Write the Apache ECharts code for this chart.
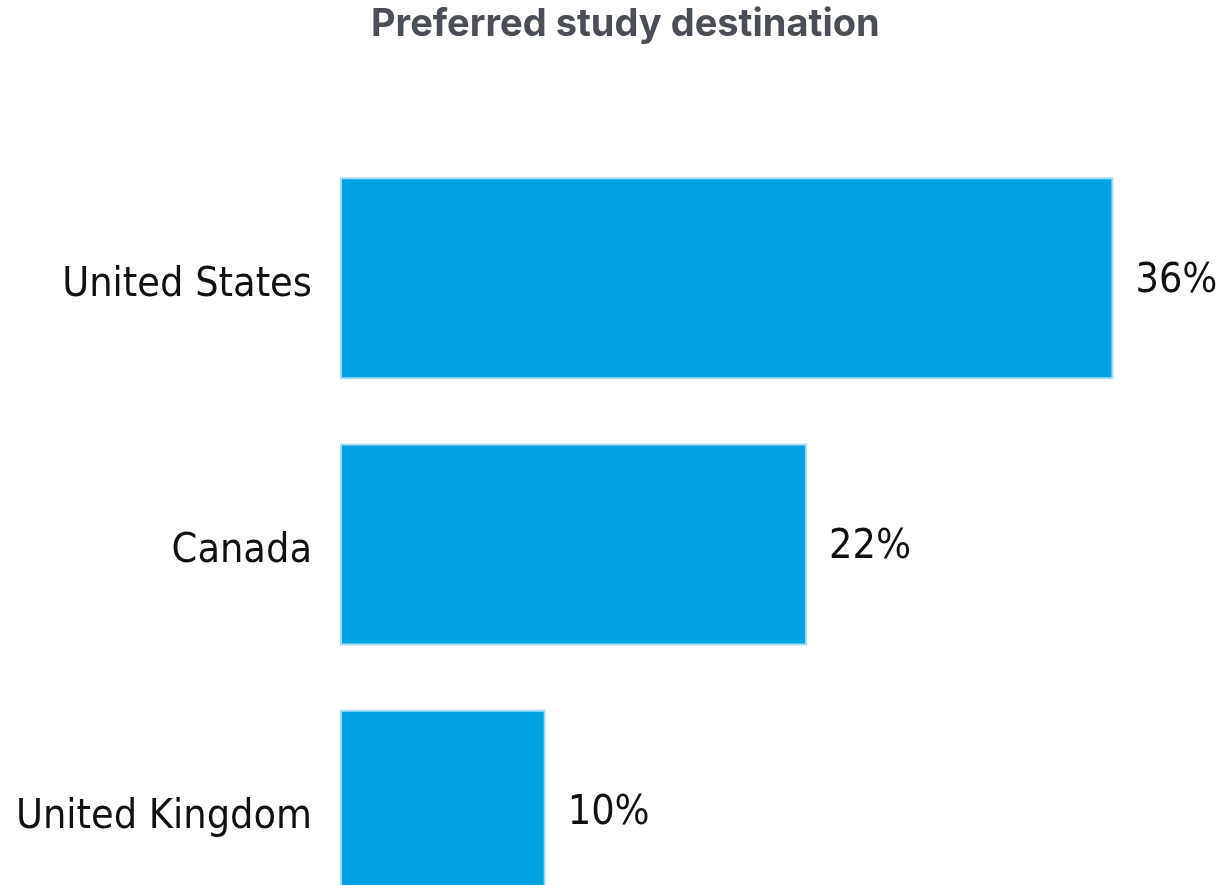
<!DOCTYPE html>
<html>
<head>
<meta charset="utf-8">
<script src="https://cdn.jsdelivr.net/npm/echarts@6/dist/echarts.min.js"></script>
<style>
  html, body { margin: 0; padding: 0; background: #fff; overflow: hidden; }
  #wrap { width: 1229px; height: 885px; overflow: hidden; }
  /* the chart runs past the bottom of the frame, the last bar is cut */
  #chart { width: 1229px; height: 944px; }
</style>
</head>
<body>
<div id="wrap"><div id="chart"></div></div>
<script>
// data
const countries = ['United States', 'Canada', 'United Kingdom']
const shares = [36.1, 21.8, 9.6]   // percent, labels rounded

const chart = echarts.init(document.getElementById('chart'))

const option = {
  animation: false,
  title: {
    text: 'Preferred study destination',
    left: 366,
    top: 1,
    textStyle: {
      fontFamily: 'Inter',
      fontWeight: 'bold',
      fontSize: 38,
      color: '#4a4e57'
    }
  },
  grid: {
    left: 340,
    right: 32,
    top: 145,
    bottom: 0
  },
  xAxis: {
    type: 'value',
    min: 0,
    max: 40,
    show: false
  },
  yAxis: {
    type: 'category',
    data: countries,
    inverse: true,
    axisLine: { show: false },
    axisTick: { show: false },
    axisLabel: {
      margin: 28,
      formatter: v => '{c|' + v + '}',
      rich: {
        c: {
          padding: [14, 0, 0, 0],
          fontFamily: 'DejaVu Sans Condensed',
          fontSize: 41,
          color: '#111'
        }
      }
    }
  },
  series: [
    {
      type: 'bar',
      data: shares,
      barWidth: 202,
      itemStyle: {
        color: '#03a2e0',
        borderColor: '#a8def4',
        borderWidth: 2
      },
      label: {
        show: true,
        position: 'right',
        distance: 22,
        offset: [0, 3],
        fontFamily: 'DejaVu Sans Condensed',
        fontSize: 41,
        color: '#111',
        formatter(p) {
          return Math.round(p.value) + '%'
        }
      }
    }
  ]
}

chart.setOption(option)
</script>
</body>
</html>
